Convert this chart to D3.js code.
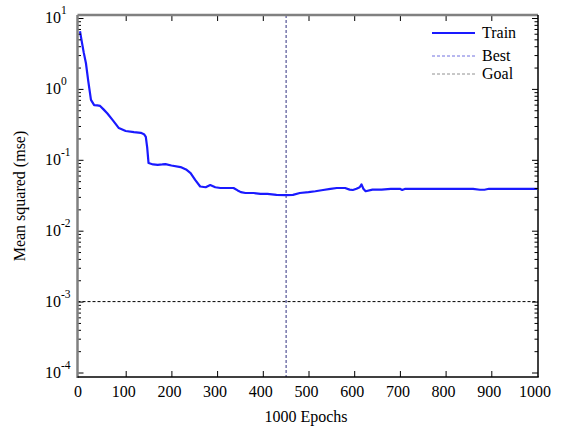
<!DOCTYPE html>
<html>
<head>
<meta charset="utf-8">
<script src="https://cdnjs.cloudflare.com/ajax/libs/d3/7.8.5/d3.min.js"></script>
<style>
  body { margin: 0; background: #fff; }
</style>
</head>
<body>
<div class="container"></div>
<script>
var WIDTH = 565;
var HEIGHT = 429;

// training curve
var epochs = [0, 4, 8, 13, 18, 24, 31, 38, 44, 52, 60, 72, 85, 100, 118, 133, 140, 144, 147, 150, 160, 170, 180, 187, 200, 220, 232, 242, 252, 263, 275, 285, 296, 307, 320, 336, 345, 352, 362, 380, 395, 410, 430, 451, 466, 481, 500, 515, 532, 548, 562, 580, 590, 597, 605, 612, 616, 620, 625, 640, 660, 680, 700, 705, 712, 737, 745, 800, 860, 875, 885, 895, 940, 1000];
var mse    = [6.5, 4.6, 3.3, 2.3, 1.3, 0.70, 0.59, 0.585, 0.575, 0.51, 0.45, 0.36, 0.28, 0.255, 0.245, 0.24, 0.23, 0.21, 0.15, 0.090, 0.086, 0.085, 0.086, 0.087, 0.083, 0.079, 0.073, 0.065, 0.052, 0.042, 0.041, 0.044, 0.041, 0.040, 0.040, 0.040, 0.037, 0.035, 0.034, 0.034, 0.033, 0.033, 0.032, 0.0317, 0.032, 0.034, 0.035, 0.036, 0.0375, 0.039, 0.040, 0.040, 0.038, 0.0375, 0.039, 0.041, 0.045, 0.039, 0.036, 0.038, 0.038, 0.039, 0.039, 0.0375, 0.039, 0.039, 0.039, 0.039, 0.039, 0.0378, 0.0378, 0.039, 0.039, 0.039];

var bestEpoch = 451;
var goal = 0.001;

var xTicks = [0, 100, 200, 300, 400, 500, 600, 700, 800, 900, 1000];
var yDecades = [-4, -3, -2, -1, 0, 1];

var FONT = "'Liberation Serif', 'Times New Roman', Times, 'DejaVu Serif', serif";

var translate = function (x, y) {
  return 'translate(' + x + ',' + y + ')';
};

var loadChart = function () {
  var box = { left: 77.5, right: 538, top: 15, bottom: 377 };

  var xScale = d3.scaleLinear()
      .domain([0, 1000])
      .range([80, 537]);

  var yScale = d3.scaleLog()
      .domain([1e-4, 10])
      .range([372.5, 18]);

  var svg = d3.select('.container').append('svg')
      .attr('width', WIDTH)
      .attr('height', HEIGHT)
      .attr('font-family', FONT)
      .style('font-family', FONT);

  // minor log ticks
  var minors = [];
  yDecades.slice(0, -1).forEach(function (d) {
    for (var m = 2; m <= 9; m++) minors.push(m * Math.pow(10, d));
  });
  var majors = yDecades.map(function (d) { return Math.pow(10, d); });

  svg.append('clipPath').attr('id', 'plotclip')
      .append('rect')
      .attr('x', box.left).attr('y', box.top)
      .attr('width', box.right - box.left).attr('height', box.bottom - box.top);

  // goal and best lines
  svg.append('line')
      .attr('x1', box.left).attr('x2', box.right)
      .attr('y1', yScale(goal)).attr('y2', yScale(goal))
      .attr('stroke', '#000').attr('stroke-width', 1)
      .attr('stroke-dasharray', '3,2');

  svg.append('line')
      .attr('x1', xScale(bestEpoch)).attr('x2', xScale(bestEpoch))
      .attr('y1', box.top).attr('y2', box.bottom)
      .attr('stroke', '#303080').attr('stroke-width', 1)
      .attr('stroke-dasharray', '3,2');

  // train curve
  var trainLine = d3.line()
      .x(function (d) { return xScale(d[0]); })
      .y(function (d) { return yScale(d[1]); });

  var trainData = epochs.map(function (e, i) { return [e, mse[i]]; });

  svg.append('path')
      .datum(trainData)
      .attr('d', trainLine)
      .attr('clip-path', 'url(#plotclip)')
      .attr('fill', 'none')
      .attr('stroke', '#1a1aff')
      .attr('stroke-width', 2.2)
      .attr('stroke-linejoin', 'round');

  // axes with inward ticks
  var tickStyle = function (g, colour) {
    g.select('.domain').remove();
    g.selectAll('line').attr('stroke', colour).attr('stroke-width', 1);
  };

  svg.append('g').attr('transform', translate(box.left, 0))
      .call(d3.axisLeft(yScale).tickValues(majors).tickSize(-6).tickFormat(''))
      .call(tickStyle, '#000');
  svg.append('g').attr('transform', translate(box.left, 0))
      .call(d3.axisLeft(yScale).tickValues(minors).tickSize(-3.5).tickFormat(''))
      .call(tickStyle, '#000');
  svg.append('g').attr('transform', translate(box.right, 0))
      .call(d3.axisRight(yScale).tickValues(majors).tickSize(-6).tickFormat(''))
      .call(tickStyle, '#000');
  svg.append('g').attr('transform', translate(box.right, 0))
      .call(d3.axisRight(yScale).tickValues(minors).tickSize(-3.5).tickFormat(''))
      .call(tickStyle, '#000');

  var innerX = xTicks.slice(1, -1);
  svg.append('g').attr('transform', translate(0, box.bottom))
      .call(d3.axisBottom(xScale).tickValues(innerX).tickSize(-6).tickFormat(''))
      .call(tickStyle, '#000');
  svg.append('g').attr('transform', translate(0, box.top))
      .call(d3.axisTop(xScale).tickValues(innerX).tickSize(-6).tickFormat(''))
      .call(tickStyle, '#000');

  // box: left and top grey, right and bottom black
  svg.append('line').attr('x1', box.left).attr('x2', box.left)
      .attr('y1', box.top).attr('y2', box.bottom + 1)
      .attr('stroke', '#808080').attr('stroke-width', 2.5);
  svg.append('line').attr('x1', box.left).attr('x2', box.right)
      .attr('y1', box.top).attr('y2', box.top)
      .attr('stroke', '#808080').attr('stroke-width', 2.5);
  svg.append('line').attr('x1', box.right).attr('x2', box.right)
      .attr('y1', box.top).attr('y2', box.bottom)
      .attr('stroke', '#000').attr('stroke-width', 1.5);
  svg.append('line').attr('x1', box.left).attr('x2', box.right + 0.75)
      .attr('y1', box.bottom).attr('y2', box.bottom)
      .attr('stroke', '#000').attr('stroke-width', 1.5);

  // x tick labels
  svg.selectAll('.xlab').data(xTicks).enter()
      .append('text')
      .attr('class', 'xlab')
      .attr('x', function (d) { return xScale(d) - 2; })
      .attr('y', 397)
      .attr('text-anchor', 'middle')
      .attr('font-size', 16)
      .text(function (d) { return d; });

  // y tick labels 10^n
  var ylab = svg.selectAll('.ylab').data(yDecades).enter()
      .append('text')
      .attr('class', 'ylab')
      .attr('x', 45)
      .attr('y', function (d) { return yScale(Math.pow(10, d)) + 5; })
      .attr('font-size', 16);
  ylab.append('tspan').text('10');
  ylab.append('tspan')
      .attr('dy', -9)
      .attr('font-size', 11.5)
      .text(function (d) { return d; });

  // axis titles
  svg.append('text')
      .attr('x', 306).attr('y', 422)
      .attr('text-anchor', 'middle')
      .attr('font-size', 16)
      .text('1000 Epochs');

  svg.append('text')
      .attr('transform', translate(25, 196) + ' rotate(-90)')
      .attr('text-anchor', 'middle')
      .attr('font-size', 16)
      .text('Mean squared (mse)');

  // legend
  var legendItems = [
    { name: 'Train', colour: '#1a1aff', width: 2.2, dash: null, y: 33 },
    { name: 'Best', colour: '#7070e0', width: 1, dash: '3,2', y: 56 },
    { name: 'Goal', colour: '#909090', width: 1, dash: '3,2', y: 74 }
  ];
  var legend = svg.append('g');
  legend.selectAll('line').data(legendItems).enter()
      .append('line')
      .attr('x1', 432).attr('x2', 475)
      .attr('y1', function (d) { return d.y; })
      .attr('y2', function (d) { return d.y; })
      .attr('stroke', function (d) { return d.colour; })
      .attr('stroke-width', function (d) { return d.width; })
      .attr('stroke-dasharray', function (d) { return d.dash; });
  legend.selectAll('text').data(legendItems).enter()
      .append('text')
      .attr('x', 482)
      .attr('y', function (d) { return d.y + 5; })
      .attr('font-size', 16)
      .text(function (d) { return d.name; });
};

window.onload = loadChart;
</script>
</body>
</html>
